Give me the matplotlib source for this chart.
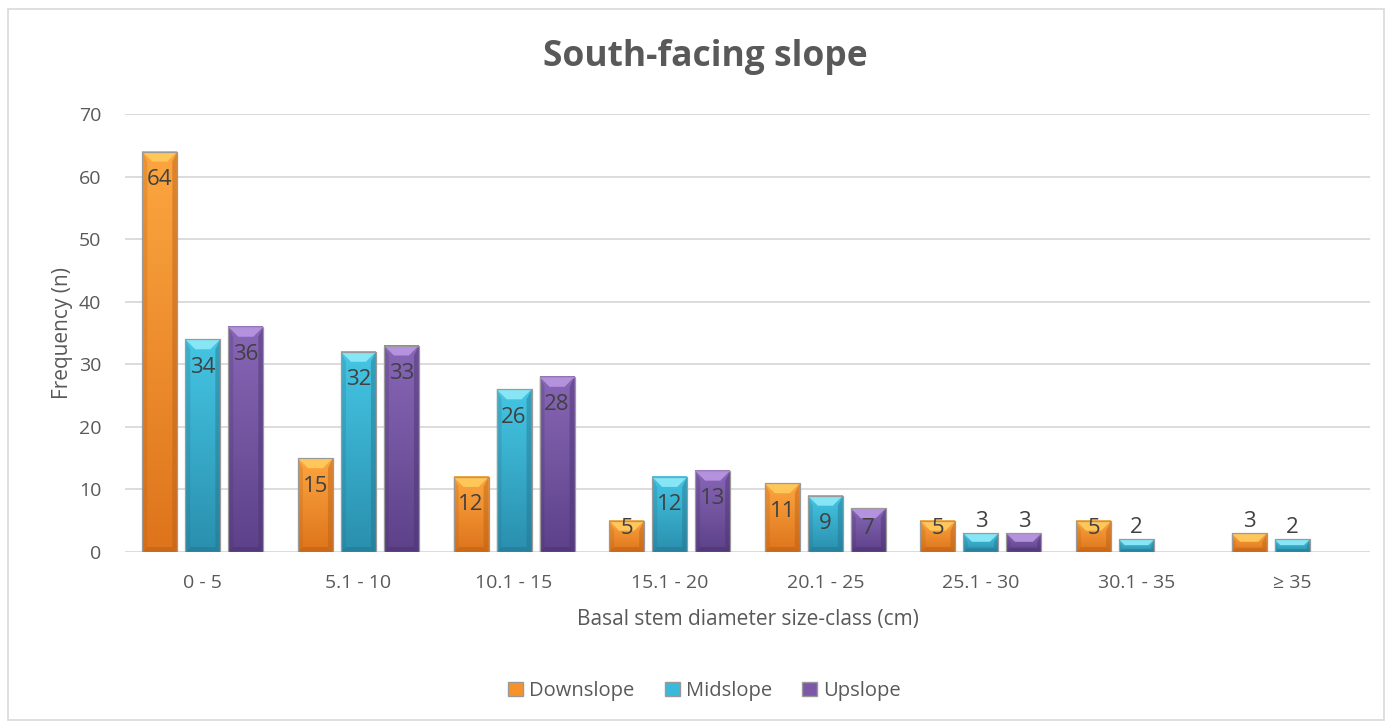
import matplotlib
matplotlib.use("Agg")
import matplotlib.pyplot as plt
import numpy as np
from matplotlib.patches import Polygon, Rectangle, Patch
from matplotlib.colors import to_rgb

plt.rcParams['font.family'] = ['Open Sans', 'DejaVu Sans']

categories = ['0 - 5', '5.1 - 10', '10.1 - 15', '15.1 - 20', '20.1 - 25', '25.1 - 30', '30.1 - 35', '≥ 35']
downslope = [64, 15, 12, 5, 11, 5, 5, 3]
midslope = [34, 32, 26, 12, 9, 3, 2, 2]
upslope = [36, 33, 28, 13, 7, 3, 0, 0]

series = [
    ('Downslope', downslope, dict(main='#F7922A', top='#FCA640', bottom='#DE741C', bevel='#FFC759', dark='#B95F15')),
    ('Midslope', midslope, dict(main='#3BB9DB', top='#45C6E4', bottom='#2A8FAE', bevel='#86E6F6', dark='#23758E')),
    ('Upslope', upslope, dict(main='#7B58A8', top='#8867B6', bottom='#5D4189', bevel='#B592DE', dark='#4A3270')),
]

text_col = '#595959'
grid_col = '#D9D9D9'

fig = plt.figure(figsize=(13.87, 7.22), dpi=100)
fig.patches.append(Rectangle((8 / 1387, 2 / 722), 1376 / 1387, 711 / 722, transform=fig.transFigure,
                             fill=False, edgecolor=grid_col, linewidth=1.2))
ax = fig.add_axes([125 / 1387, 170 / 722, 1245 / 1387, 438 / 722])
ax.set_xlim(-0.5, len(categories) - 0.5)
ax.set_ylim(0, 70)
ax.set_yticks(np.arange(0, 71, 10))
ax.set_xticks(np.arange(len(categories)))
ax.set_xticklabels(categories)
ax.tick_params(length=0, labelsize=14, colors=text_col)
ax.tick_params(axis='x', pad=16)
ax.tick_params(axis='y', pad=17)
for s in ax.spines.values():
    s.set_visible(False)
ax.grid(axis='y', color=grid_col, linewidth=1.3)
ax.set_axisbelow(True)

# pixel sizes in data units
px_x = 8 / 1245
px_y = 70 / 438
width = 35 * px_x
offset = 43 * px_x
bev = 10

grad = np.linspace(0, 1, 64).reshape(-1, 1)

for k, (name, vals, c) in enumerate(series):
    top_rgb = np.array(to_rgb(c['top']))
    bot_rgb = np.array(to_rgb(c['bottom']))
    for i, v in enumerate(vals):
        if v <= 0:
            continue
        x0 = i + (k - 1) * offset - width / 2
        x1 = x0 + width
        # body gradient, lighter at the top
        img = top_rgb[None, None, :] * (1 - grad[:, :, None]) + bot_rgb[None, None, :] * grad[:, :, None]
        ax.imshow(img, extent=[x0, x1, 0, v], origin='upper', aspect='auto', zorder=2, interpolation='bilinear')
        d = min(bev, v / px_y / 2.2)
        dx = d * px_x
        dy = d * px_y
        # side shading
        ax.add_patch(Polygon([(x0, 0), (x0 + dx * 0.5, dy * 0.5), (x0 + dx * 0.5, v - dy), (x0, v)],
                             closed=True, facecolor=c['dark'], alpha=0.25, edgecolor='none', zorder=3))
        ax.add_patch(Polygon([(x1, 0), (x1 - dx * 0.5, dy * 0.5), (x1 - dx * 0.5, v - dy), (x1, v)],
                             closed=True, facecolor=c['dark'], alpha=0.45, edgecolor='none', zorder=3))
        ax.add_patch(Polygon([(x0, 0), (x1, 0), (x1 - dx * 0.5, dy * 0.5), (x0 + dx * 0.5, dy * 0.5)],
                             closed=True, facecolor=c['dark'], alpha=0.5, edgecolor='none', zorder=3))
        # top bevel
        ax.add_patch(Polygon([(x0, v), (x1, v), (x1 - dx, v - dy), (x0 + dx, v - dy)],
                             closed=True, facecolor=c['bevel'], edgecolor='none', zorder=3))
        ax.add_patch(Rectangle((x0, 0), width, v, facecolor='none', edgecolor='#9A9A9A',
                               linewidth=0.9, zorder=4))
        # value label
        ly = max(v - 28 * px_y, 24 * px_y)
        if v < 4:
            ly = v + 12 * px_y
        ax.text((x0 + x1) / 2, ly, str(v), ha='center', va='center', fontsize=16,
                color='#404040', zorder=5)

ax.set_xlabel('Basal stem diameter size-class (cm)', fontsize=15, color=text_col, labelpad=12)
ax.set_ylabel('Frequency (n)', fontsize=15, color=text_col, labelpad=4)
fig.text(0.5085, 1 - 57 / 722, 'South-facing slope', ha='center', va='center', fontsize=25.5,
         fontweight='bold', color=text_col)

handles = [Patch(facecolor=c['main'], edgecolor='#9A9A9A', label=name) for name, _, c in series]
fig.legend(handles=handles, loc='center', bbox_to_anchor=(0.508, 1 - 691 / 722), ncol=3, frameon=False,
           fontsize=14.5, labelcolor=text_col, handlelength=0.75, handleheight=0.75, handletextpad=0.3,
           columnspacing=1.5)

fig.savefig('out.png', dpi=100)
